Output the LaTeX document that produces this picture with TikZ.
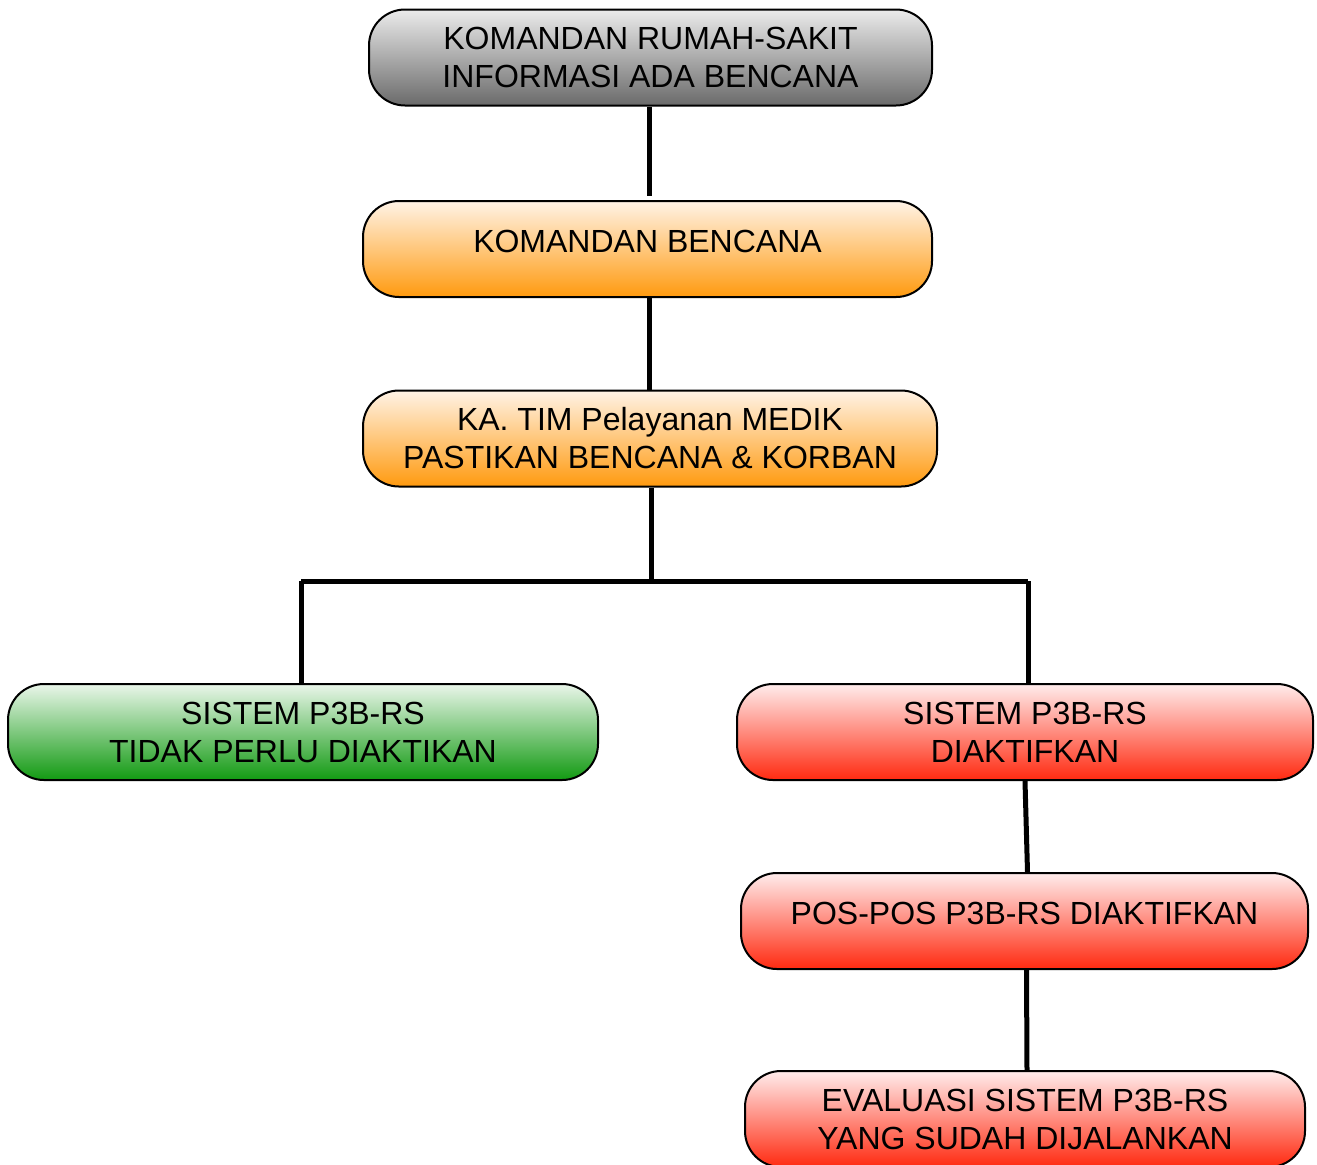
\documentclass[tikz,border=0pt]{standalone}
\usepackage{fontspec}
\setmainfont{Liberation Sans}
\usetikzlibrary{calc}
\definecolor{grytop}{HTML}{EBEBEB}
\definecolor{grybot}{HTML}{6A6A6A}
\definecolor{orgtop}{HTML}{FFF3E6}
\definecolor{orgbot}{HTML}{FF9A0F}
\definecolor{grntop}{HTML}{EAF6EA}
\definecolor{grnbot}{HTML}{129A12}
\definecolor{redtop}{HTML}{FFECEC}
\definecolor{redbot}{HTML}{FF2A10}
\tikzset{
  box/.style={draw=black,line width=1pt,rounded corners=18pt,inner sep=0pt,
    minimum height=48pt,align=center,
    font=\fontsize{16pt}{19pt}\selectfont},
  gry/.style={box,top color=grytop,bottom color=grybot},
  org/.style={box,top color=orgtop,bottom color=orgbot},
  grn/.style={box,top color=grntop,bottom color=grnbot},
  rd/.style={box,top color=redtop,bottom color=redbot},
  link/.style={line width=2.5pt}
}
\begin{document}
\begin{tikzpicture}[x=0.5pt,y=-0.5pt]
\useasboundingbox (0,0) rectangle (1317,1164);
\node[gry,minimum width=281.5pt] (info) at (650.5,57.5) {KOMANDAN RUMAH-SAKIT\\INFORMASI ADA BENCANA};
\node[org,minimum width=284.5pt,text depth=8pt] (kmd) at (647.5,249) {KOMANDAN BENCANA};
\node[org,minimum width=287pt] (medik) at (650,438.5) {KA. TIM Pelayanan MEDIK\\PASTIKAN BENCANA \& KORBAN};
\node[grn,minimum width=295pt] (tidak) at (303,732) {SISTEM P3B-RS\\TIDAK PERLU DIAKTIKAN};
\node[rd,minimum width=288pt] (aktif) at (1025,732) {SISTEM P3B-RS\\DIAKTIFKAN};
\node[rd,minimum width=283.5pt,text depth=8pt] (pos) at (1024.5,921) {POS-POS P3B-RS DIAKTIFKAN};
\node[rd,minimum width=280pt] (eval) at (1025,1119) {EVALUASI SISTEM P3B-RS\\YANG SUDAH DIJALANKAN};
% cabang
\coordinate (cab) at (651,581);
\coordinate (cabl) at (301,581);
\coordinate (cabr) at (1028,581);
\coordinate (atas) at (649,196);
\draw[link] (info.south -| atas) -- (atas);
\draw[link] (kmd.south -| atas) -- (atas |- medik.north);
\draw[link] (medik.south -| cab) -- (cab);
\draw[link] (cabl) -- (cabr);
\draw[link] (cabl) -- (cabl |- tidak.north);
\draw[link] (cabr) -- (cabr |- aktif.north);
\draw[link] (aktif.south) -- ($(pos.north)+(3,0)$);
\draw[link] ($(pos.south)+(2,0)$) -- ($(eval.north)+(2,0)$);
\end{tikzpicture}
\end{document}
